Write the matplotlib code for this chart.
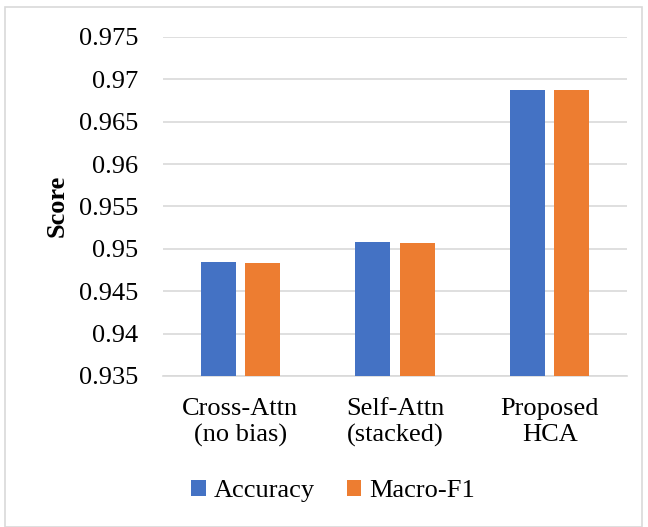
import matplotlib.pyplot as plt
from matplotlib.patches import Rectangle
import numpy as np

categories = ["Cross-Attn\n(no bias)", "Self-Attn\n(stacked)", "Proposed\nHCA"]
accuracy = [0.9485, 0.9508, 0.9687]
macro_f1 = [0.9483, 0.9507, 0.9687]
yticks = [0.935, 0.94, 0.945, 0.95, 0.955, 0.96, 0.965, 0.97, 0.975]
ytick_labels = ["0.935", "0.94", "0.945", "0.95", "0.955", "0.96", "0.965", "0.97", "0.975"]

plt.rcParams['font.family'] = ['Liberation Serif', 'DejaVu Serif']
FS = 19

fig = plt.figure(figsize=(6.48, 5.27), dpi=100)
fig.patches.append(Rectangle((5 / 648, 0.0), 637 / 648, 1 - 7 / 527,
                             transform=fig.transFigure, fill=False,
                             edgecolor="#d9d9d9", linewidth=1.2))

ax = fig.add_axes([163 / 648, 1 - 376 / 527, 464 / 648, 339 / 527])
x = np.arange(len(categories))
w = 0.226
off = 0.143
ax.bar(x - off, accuracy, w, color="#4472c4", label="Accuracy", zorder=3)
ax.bar(x + off, macro_f1, w, color="#ed7d31", label="Macro-F1", zorder=3)

ax.set_xlim(-0.5, 2.5)
ax.set_ylim(0.935, 0.975)
ax.set_yticks(yticks)
ax.set_yticklabels(ytick_labels)
ax.set_xticks(x)
ax.set_xticklabels(categories, linespacing=1.2)
ax.tick_params(axis='both', length=0, labelsize=FS)
ax.tick_params(axis='y', pad=18)
ax.tick_params(axis='x', pad=16)
ax.yaxis.grid(True, color="#d9d9d9", linewidth=1.2, zorder=0)
for s in ["top", "right", "left"]:
    ax.spines[s].set_visible(False)
ax.spines["bottom"].set_color("#d9d9d9")
ax.spines["bottom"].set_linewidth(1.2)

fig.text(57 / 648, 1 - 206 / 527, "Score", rotation=90, ha="center", va="center",
         fontsize=FS, fontweight="bold")

fig.legend(loc="center", bbox_to_anchor=(333 / 648, 1 - 491 / 527), ncol=2,
           frameon=False, fontsize=FS, handlelength=0.55, handleheight=0.55,
           handletextpad=0.3, columnspacing=1.2)

fig.savefig("out.png", dpi=100)
